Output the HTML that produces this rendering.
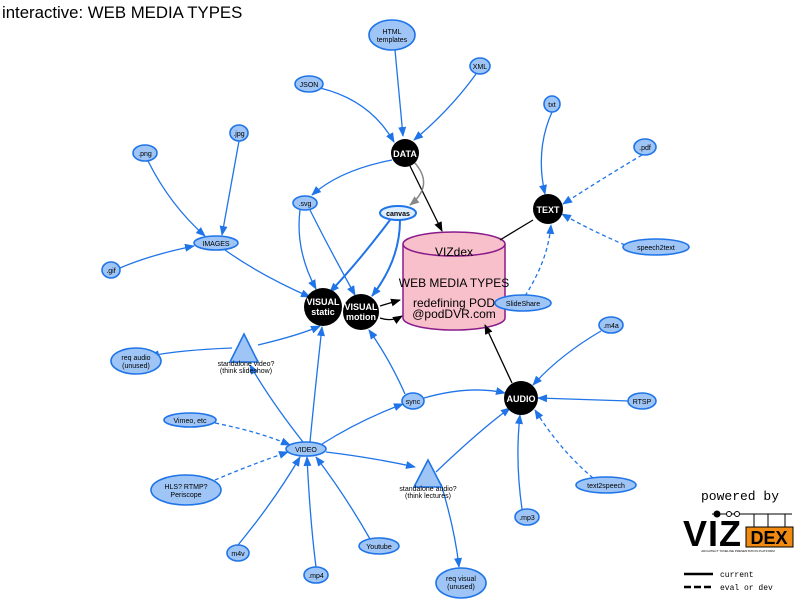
<!DOCTYPE html><html><head><style>body{margin:0;background:#fff}svg{display:block}text{font-family:"Liberation Sans",sans-serif}</style></head><body>
<svg width="798" height="610" viewBox="0 0 798 610" xmlns="http://www.w3.org/2000/svg">
<defs>
<marker id="b" markerWidth="10" markerHeight="8" refX="9" refY="4" orient="auto" markerUnits="userSpaceOnUse"><path d="M0,0L10,4L0,8z" fill="#1f74e8"/></marker>
<marker id="k" markerWidth="10" markerHeight="8" refX="9" refY="4" orient="auto" markerUnits="userSpaceOnUse"><path d="M0,0L10,4L0,8z" fill="#000"/></marker>
<marker id="g" markerWidth="10" markerHeight="8" refX="9" refY="4" orient="auto" markerUnits="userSpaceOnUse"><path d="M0,0L10,4L0,8z" fill="#888"/></marker>
</defs>
<text x="2" y="18" font-size="16.8">interactive: WEB MEDIA TYPES</text>
<path d="M403,244 L403,318 A51,12 0 0 0 505,318 L505,244" fill="#f8c0cb" stroke="#8b1a8b" stroke-width="1.5"/>
<ellipse cx="454" cy="244" rx="51" ry="12" fill="#f8c0cb" stroke="#8b1a8b" stroke-width="1.5"/>
<g font-size="12" text-anchor="middle" fill="#000"><text x="454" y="256">VIZdex</text><text x="454" y="287">WEB MEDIA TYPES</text><text x="454" y="307">redefining POD</text><text x="454" y="318">@podDVR.com</text></g>
<g fill="none" stroke="#1f74e8" stroke-width="1.3" marker-end="url(#b)">
<path d="M395,50 L403,136"/>
<path d="M320,88 Q370,100 394,142"/>
<path d="M476,74 Q450,110 414,140"/>
<path d="M392,160 Q340,170 312,195"/>
<path d="M148,161 Q170,205 205,236"/>
<path d="M239,141 L222,235"/>
<path d="M120,268 Q150,255 194,246"/>
<path d="M225,250 Q260,275 310,297"/>
<path d="M300,210 Q295,250 316,289"/>
<path d="M310,210 Q330,250 355,295"/>
<path d="M390,220 Q360,260 330,292" stroke-width="2"/>
<path d="M400,220 Q400,260 372,296" stroke-width="2"/>
<path d="M552,112 Q535,150 545,194"/>
<path d="M642,155 Q600,180 563,204" stroke-dasharray="4,3"/>
<path d="M625,245 Q590,230 562,214" stroke-dasharray="4,3"/>
<path d="M525,296 Q548,260 551,225" stroke-dasharray="4,3"/>
<path d="M601,331 Q560,355 533,385"/>
<path d="M629,401 L538,398"/>
<path d="M593,478 Q560,450 535,410" stroke-dasharray="4,3"/>
<path d="M522,509 Q515,460 520,415"/>
<path d="M424,398 Q470,385 505,393"/>
<path d="M405,394 Q390,360 369,330"/>
<path d="M232,348 Q180,350 150,356"/>
<path d="M258,345 Q300,335 320,326"/>
<path d="M310,442 Q315,390 322,327"/>
<path d="M303,442 Q270,400 250,365"/>
<path d="M322,444 Q360,420 403,404"/>
<path d="M215,423 Q260,432 290,445" stroke-dasharray="4,3"/>
<path d="M215,480 Q250,465 288,452" stroke-dasharray="4,3"/>
<path d="M326,452 Q375,458 415,467"/>
<path d="M238,545 Q275,500 300,457"/>
<path d="M316,567 Q310,520 307,457"/>
<path d="M370,539 Q345,495 316,457"/>
<path d="M436,472 Q480,430 510,408"/>
<path d="M441,484 Q455,530 459,567"/>
</g>
<g fill="none" stroke="#000" stroke-width="1.3" marker-end="url(#k)">
<path d="M410,166 L442,231"/>
<path d="M380,306 L400,300"/>
<path d="M380,318 Q392,322 402,316"/>
<path d="M512,383 L485,325"/>
</g>
<path d="M533,220 L500,240" stroke="#000" stroke-width="1.3"/>
<path d="M414,162 Q435,185 410,205" fill="none" stroke="#888" stroke-width="1.5" marker-end="url(#g)"/>
<g fill="#9ec5f5" stroke="#1f74e8" stroke-width="1.6">
<ellipse cx="392" cy="35" rx="23" ry="15"/><ellipse cx="309" cy="84" rx="14" ry="8"/><ellipse cx="480" cy="66" rx="10" ry="8"/>
<ellipse cx="145" cy="153" rx="12" ry="8"/><ellipse cx="239" cy="133" rx="9" ry="8"/><ellipse cx="552" cy="104" rx="8" ry="8"/>
<ellipse cx="645" cy="147" rx="11" ry="8"/><ellipse cx="305" cy="203" rx="12" ry="7"/><ellipse cx="398" cy="213" rx="18" ry="7" fill="#ddeeff" stroke-width="2"/>
<ellipse cx="216" cy="243" rx="22" ry="7"/><ellipse cx="656" cy="247" rx="33" ry="8"/><ellipse cx="111" cy="270" rx="9" ry="8"/>
<ellipse cx="523" cy="303" rx="28" ry="8"/><ellipse cx="611" cy="325" rx="12" ry="8"/><ellipse cx="136" cy="361" rx="25" ry="13"/>
<ellipse cx="642" cy="401" rx="14" ry="8"/><ellipse cx="413" cy="401" rx="11" ry="8"/><ellipse cx="190" cy="420" rx="26" ry="7"/>
<ellipse cx="306" cy="449" rx="20" ry="7"/><ellipse cx="606" cy="485" rx="30" ry="8"/><ellipse cx="186" cy="490" rx="35" ry="15"/>
<ellipse cx="527" cy="517" rx="12" ry="8"/><ellipse cx="379" cy="546" rx="20" ry="8"/><ellipse cx="238" cy="553" rx="11" ry="8"/>
<ellipse cx="316" cy="575" rx="12" ry="8"/><ellipse cx="461" cy="583" rx="25" ry="15"/>
<path d="M244,334 L258,362 L230,362z"/><path d="M428,460 L442,487 L414,487z"/>
</g>
<g fill="#000"><circle cx="405" cy="153" r="14"/><circle cx="548" cy="209" r="15"/><circle cx="323" cy="307" r="19"/><circle cx="361" cy="312" r="18"/><circle cx="521" cy="398" r="17"/></g>
<g font-size="9" font-weight="bold" fill="#fff" text-anchor="middle"><text x="405" y="157">DATA</text><text x="548" y="213">TEXT</text><text x="323" y="305">VISUAL</text><text x="323" y="315">static</text><text x="361" y="310">VISUAL</text><text x="361" y="320">motion</text><text x="521" y="402">AUDIO</text></g>
<g font-size="7" text-anchor="middle" fill="#000">
<text x="392" y="34">HTML</text><text x="392" y="42">templates</text><text x="309" y="87">JSON</text><text x="480" y="69">XML</text>
<text x="145" y="156">.png</text><text x="239" y="136">.jpg</text><text x="552" y="107">txt</text><text x="645" y="150">.pdf</text>
<text x="305" y="206">.svg</text><text x="398" y="216" font-weight="bold">canvas</text><text x="216" y="246">IMAGES</text><text x="656" y="250">speech2text</text>
<text x="111" y="273">.gif</text><text x="523" y="306">SlideShare</text><text x="611" y="328">.m4a</text>
<text x="136" y="360">req audio</text><text x="136" y="368">(unused)</text><text x="642" y="404">RTSP</text><text x="413" y="404">sync</text>
<text x="190" y="423">Vimeo, etc</text><text x="306" y="452">VIDEO</text><text x="606" y="488">text2speech</text>
<text x="186" y="489">HLS? RTMP?</text><text x="186" y="497">Periscope</text><text x="527" y="520">.mp3</text><text x="379" y="549">Youtube</text>
<text x="238" y="556">m4v</text><text x="316" y="578">.mp4</text><text x="461" y="581">req visual</text><text x="461" y="589">(unused)</text>
<text x="246" y="366">standalone video?</text><text x="246" y="373">(think slideshow)</text>
<text x="428" y="491">standalone audio?</text><text x="428" y="498">(think lectures)</text>
</g>
<text x="740" y="500" font-size="13" style="font-family:'Liberation Mono',monospace" text-anchor="middle">powered by</text>
<path d="M712,514 H792" stroke="#000"/><circle cx="717" cy="514" r="3.5"/><circle cx="729" cy="514" r="2.5" fill="#fff" stroke="#000"/><circle cx="737" cy="514" r="2.5" fill="#fff" stroke="#000"/>
<path d="M754,514V528M768,514V528M785,514V528" stroke="#000"/>
<text x="683" y="546" font-size="36" font-weight="bold" style="font-family:'Liberation Sans',sans-serif;letter-spacing:1px">VIZ</text>
<rect x="746" y="527" width="47" height="20" fill="#f08a10" stroke="#000"/>
<text x="769" y="544" font-size="18" font-weight="bold" text-anchor="middle">DEX</text>
<text x="738" y="552" font-size="3" text-anchor="middle">ARCHITECT  TUNELINE  PRESENTATION  PLATFORM</text>
<path d="M684,574 H713" stroke="#000" stroke-width="2.5"/><text x="720" y="577" font-size="8" style="font-family:'Liberation Mono',monospace">current</text>
<path d="M684,587 H713" stroke="#000" stroke-width="2.5" stroke-dasharray="7,3"/><text x="720" y="590" font-size="8" style="font-family:'Liberation Mono',monospace">eval or dev</text>
</svg></body></html>
